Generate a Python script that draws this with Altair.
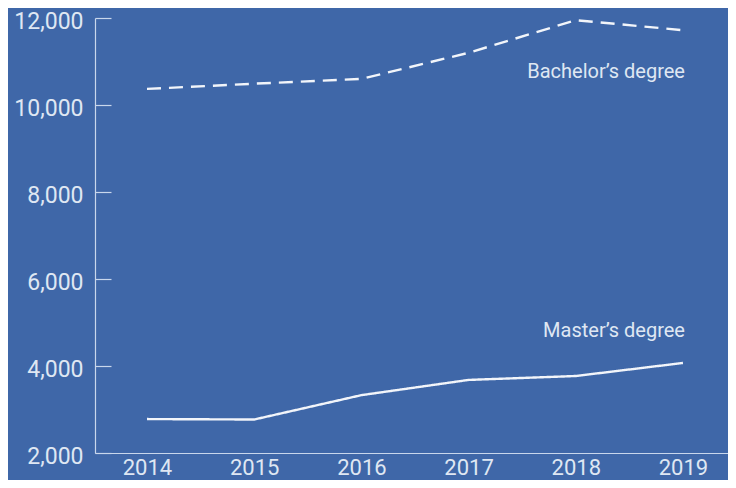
import altair as alt
import pandas as pd

years = [2014, 2015, 2016, 2017, 2018, 2019]
bachelor = [10370, 10490, 10600, 11200, 11950, 11720]
master = [2780, 2770, 3330, 3680, 3770, 4070]
series = ["Bachelor’s degree", "Master’s degree"]
y_ticks = [2000, 4000, 6000, 8000, 10000, 12000]
label_year = [2019, 2019]
label_value = [10620, 4670]

BG = "#3F67A8"
FG = "#F2F5FA"
TXT = "#DFE7F3"
AXIS = "#C9D7EC"
FONT = "Roboto"
W, H = 633, 435

rows = []
for y, b, m in zip(years, bachelor, master):
    rows.append({"year": y, "value": b, "series": series[0]})
    rows.append({"year": y, "value": m, "series": series[1]})
df = pd.DataFrame(rows)
labels = pd.DataFrame({"year": label_year, "value": label_value, "series": series})

xscale = alt.Scale(domain=[2013.515, 2019.42], nice=False, zero=False)
yscale = alt.Scale(domain=[2000, 12000], nice=False, zero=False)

xax = alt.Axis(values=years, format="d", title=None, grid=False, ticks=False,
               domainColor=AXIS, domainWidth=1.2, labelColor=TXT, labelFont=FONT,
               labelFontSize=22, labelPadding=4, labelFlush=False)
yax = alt.Axis(values=y_ticks, format=",d", title=None, grid=False, ticks=False,
               domainColor=AXIS, domainWidth=1.2, labelColor=TXT, labelFont=FONT,
               labelFontSize=23, labelPadding=12, labelBaseline="middle",
               labelOffset=3, labelFlush=False)
# inward ticks: a label-less right axis moved onto the left edge
yax_in = alt.Axis(orient="right", offset=-W, values=y_ticks, title=None, grid=False,
                  labels=False, domain=False, ticks=True, tickSize=16,
                  tickColor=AXIS, tickWidth=1.2)

lines = alt.Chart(df).mark_line(strokeWidth=2.4, color=FG).encode(
    x=alt.X("year:Q", scale=xscale, axis=xax),
    y=alt.Y("value:Q", scale=yscale, axis=yax),
    strokeDash=alt.StrokeDash("series:N",
                              scale=alt.Scale(domain=series, range=[[14, 8], [1, 0]]),
                              legend=None),
    detail="series:N",
)

tickmarks = alt.Chart(df).mark_point(opacity=0).encode(
    x=alt.X("year:Q", scale=xscale),
    y=alt.Y("value:Q", scale=yscale, axis=yax_in),
)

text = alt.Chart(labels).mark_text(align="right", baseline="alphabetic", color=TXT,
                                   font=FONT, fontSize=20, dx=2).encode(
    x=alt.X("year:Q", scale=xscale),
    y=alt.Y("value:Q", scale=yscale, axis=None),
    text="series:N",
)

chart = alt.layer(lines, tickmarks, text).resolve_axis(y="independent").properties(
    width=W, height=H, background=BG,
    padding={"left": 87, "top": 10, "right": 0, "bottom": 27},
    autosize=alt.AutoSizeParams(type="none"),
).configure_view(stroke=None)

chart.save("out.html", embed_options={"renderer": "svg", "actions": False})
